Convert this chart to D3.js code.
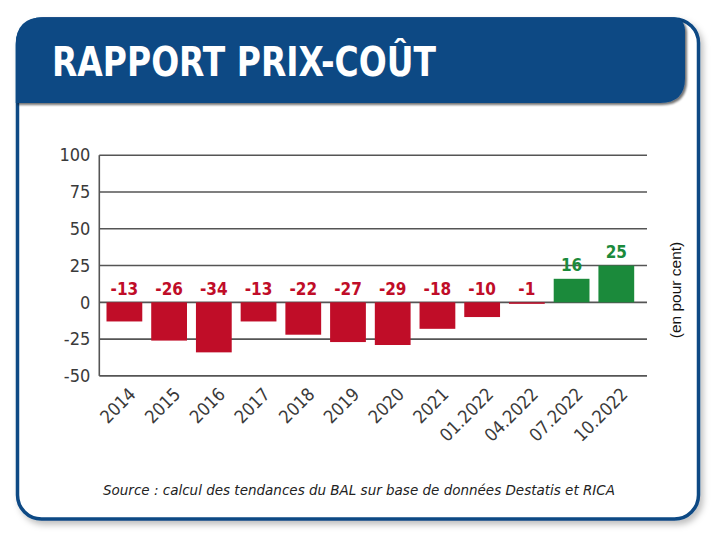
<!DOCTYPE html>
<html><head><meta charset="utf-8">
<script src="https://cdn.jsdelivr.net/npm/d3@7/dist/d3.min.js"></script>
<style>html,body{margin:0;padding:0;background:#fff;}svg{display:block;}</style>
</head><body>
<script>
const categories = ["2014","2015","2016","2017","2018","2019","2020","2021","01.2022","04.2022","07.2022","10.2022"];
const values = [-13,-26,-34,-13,-22,-27,-29,-18,-10,-1,16,25];
const yTicks = [100,75,50,25,0,-25,-50];
const title = "RAPPORT PRIX-COÛT";
const unitLabel = "(en pour cent)";
const sourceText = "Source : calcul des tendances du BAL sur base de données Destatis et RICA";

const W = 720, H = 538;
const svg = d3.select("body").append("svg").attr("width", W).attr("height", H);
const defs = svg.append("defs");
const f1 = defs.append("filter").attr("id","frameShadow").attr("x","-10%").attr("y","-10%").attr("width","120%").attr("height","120%");
f1.append("feDropShadow").attr("dx",3).attr("dy",4).attr("stdDeviation",3).attr("flood-color","#000").attr("flood-opacity",0.25);
const f2 = defs.append("filter").attr("id","headShadow").attr("x","-10%").attr("y","-10%").attr("width","120%").attr("height","130%");
f2.append("feDropShadow").attr("dx",2).attr("dy",2).attr("stdDeviation",1.2).attr("flood-color","#000").attr("flood-opacity",0.55);

const blue = "#0b4884";
// outer frame
svg.append("rect").attr("x",17.5).attr("y",19).attr("width",681).attr("height",500).attr("rx",24).attr("ry",24)
  .attr("fill","#fff").attr("stroke",blue).attr("stroke-width",3.5).attr("filter","url(#frameShadow)");
// header band
svg.append("path")
  .attr("d","M15.75,103 L15.75,45 Q15.75,17.25 43,17.25 L672,17.25 Q684,17.25 685,30 L685,78 Q685,103 660,103 Z")
  .attr("fill",blue).attr("filter","url(#headShadow)");
svg.append("text").attr("x",52).attr("y",75.5).attr("fill","#fff")
  .attr("font-family","'Liberation Sans Narrow','DejaVu Sans Condensed',sans-serif").attr("font-weight","bold")
  .attr("font-size",40).attr("textLength",384).attr("lengthAdjust","spacingAndGlyphs").text(title);

// scales
const y = d3.scaleLinear().domain([-50,100]).range([375.9,155.2]);
const x = d3.scaleBand().domain(categories).range([106.5,634.2]).paddingInner(0.2).paddingOuter(0);
const gridX0 = 99.3, gridX1 = 647;

// gridlines
svg.append("g").selectAll("line").data(yTicks).join("line")
  .attr("x1",gridX0).attr("x2",gridX1).attr("y1",d=>y(d)).attr("y2",d=>y(d))
  .attr("stroke","#555").attr("stroke-width",1.6);
// y axis line
svg.append("line").attr("x1",gridX0).attr("x2",gridX0).attr("y1",y(100)).attr("y2",y(-50))
  .attr("stroke","#555").attr("stroke-width",1.6);

// y tick labels via axis
const yAxis = d3.axisLeft(y).tickValues(yTicks).tickFormat(d=>String(d)).tickSize(0).tickPadding(9);
const gy = svg.append("g").attr("transform",`translate(${gridX0},0)`).call(yAxis);
gy.select(".domain").remove();
gy.selectAll("text").attr("font-family","'DejaVu Sans Condensed',sans-serif").attr("font-size",18).attr("fill","#3a3a3a");

// bars
const red = "#c00d28", green = "#1b8a3b";
svg.append("g").selectAll("rect").data(values).join("rect")
  .attr("x",(d,i)=>x(categories[i])).attr("width",x.bandwidth())
  .attr("y",d=>y(Math.max(0,d))).attr("height",d=>Math.max(1.5,Math.abs(y(d)-y(0))))
  .attr("fill",d=>d<0?red:green);

// value labels
svg.append("g").selectAll("text").data(values).join("text")
  .attr("x",(d,i)=>x(categories[i])+x.bandwidth()/2)
  .attr("y",d=>y(Math.max(0,d))-7.5)
  .attr("text-anchor","middle")
  .attr("font-family","'DejaVu Sans Condensed',sans-serif").attr("font-weight","bold").attr("font-size",17)
  .attr("fill",d=>d<0?red:green).text(d=>String(d));

// x labels via axis
const xAxis = d3.axisBottom(x).tickSize(0).tickPadding(0);
const gx = svg.append("g").attr("transform",`translate(0,${y(-50)})`).call(xAxis);
gx.select(".domain").remove();
gx.selectAll("text")
  .attr("font-family","'DejaVu Sans Condensed',sans-serif").attr("font-size",18).attr("fill","#3a3a3a")
  .attr("text-anchor","end").attr("dy","0.35em")
  .attr("transform","translate(8,15) rotate(-45)");

// unit label
svg.append("text").attr("transform","translate(681,290) rotate(-90)").attr("text-anchor","middle")
  .attr("font-family","'Liberation Sans',Arial,sans-serif").attr("font-size",15.5).attr("fill","#111").text(unitLabel);

// source
svg.append("text").attr("x",103).attr("y",495)
  .attr("font-family","'DejaVu Sans Condensed',sans-serif").attr("font-style","italic").attr("font-size",14.5)
  .attr("fill","#222").attr("textLength",512).attr("lengthAdjust","spacingAndGlyphs").text(sourceText);
</script>
</body></html>
